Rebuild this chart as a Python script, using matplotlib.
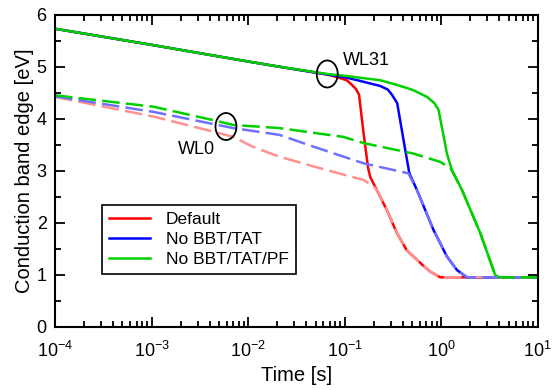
import matplotlib
matplotlib.use('Agg')
import matplotlib.pyplot as plt
from matplotlib.patches import Ellipse
from matplotlib.transforms import ScaledTranslation
from matplotlib.ticker import LogLocator, MultipleLocator, FixedLocator

plt.rcParams['font.family'] = ['Liberation Sans', 'DejaVu Sans']
plt.rcParams['mathtext.fontset'] = 'custom'
plt.rcParams['mathtext.rm'] = 'Liberation Sans'
plt.rcParams['mathtext.default'] = 'regular'

# WL31 (solid)
t_default = [1e-4, 1e-3, 1e-2, 2.1e-2, 6.6e-2, 8.3e-2, 0.105, 0.119, 0.131, 0.141, 0.157, 0.175, 0.184,
             0.215, 0.274, 0.348, 0.44, 0.516, 0.655, 0.769, 0.977, 10]
v_default = [5.73, 5.42, 5.10, 5.00, 4.85, 4.80, 4.74, 4.65, 4.57, 4.46, 3.72, 3.05, 2.88,
             2.63, 2.24, 1.80, 1.47, 1.35, 1.17, 1.06, 0.95, 0.95]
t_nobbt = [1e-4, 1e-3, 1e-2, 2.1e-2, 6.6e-2, 0.105, 0.157, 0.233, 0.28, 0.309, 0.35, 0.424, 0.468,
           0.56, 0.832, 1.146, 1.455, 1.845, 10]
v_nobbt = [5.73, 5.42, 5.10, 5.00, 4.85, 4.79, 4.71, 4.63, 4.56, 4.46, 4.30, 3.40, 2.95,
           2.63, 1.86, 1.35, 1.09, 0.95, 0.95]
t_nopf = [1e-4, 1e-3, 1e-2, 2.1e-2, 6.6e-2, 0.105, 0.233, 0.348, 0.513, 0.711, 0.85, 0.938, 1.146,
          1.29, 1.64, 2.54, 3.63, 3.98, 10]
v_nopf = [5.73, 5.42, 5.10, 5.00, 4.86, 4.82, 4.74, 4.65, 4.55, 4.42, 4.30, 4.17, 3.33,
          3.01, 2.63, 1.80, 0.99, 0.95, 0.95]

# WL0 (dashed)
t_default_wl0 = [1e-4, 1.05e-3, 4.4e-3, 7.0e-3, 1.12e-2, 2.1e-2, 4.8e-2, 0.158, 0.20, 0.215,
                 0.274, 0.348, 0.44, 0.516, 0.655, 0.769, 0.977, 10]
v_default_wl0 = [4.42, 4.04, 3.75, 3.65, 3.46, 3.27, 3.08, 2.82, 2.69, 2.63,
                 2.24, 1.80, 1.47, 1.35, 1.17, 1.06, 0.95, 0.95]
t_nobbt_wl0 = [1e-4, 1.05e-3, 7.0e-3, 2.1e-2, 4.8e-2, 0.158, 0.457, 0.56, 0.832, 1.146,
               1.455, 1.845, 10]
v_nobbt_wl0 = [4.43, 4.13, 3.82, 3.69, 3.46, 3.14, 2.95, 2.63, 1.86, 1.35,
               1.09, 0.95, 0.95]
t_nopf_wl0 = [1e-4, 1.05e-3, 4.4e-3, 7.0e-3, 2.1e-2, 9.7e-2, 0.158, 0.513, 0.977, 1.24,
              1.29, 1.64, 2.54, 3.63, 3.98, 10]
v_nopf_wl0 = [4.45, 4.23, 3.97, 3.88, 3.82, 3.65, 3.53, 3.33, 3.17, 3.05,
              3.01, 2.63, 1.80, 0.99, 0.95, 0.95]

labels = ['Default', 'No BBT/TAT', 'No BBT/TAT/PF']
colors = ['#ff0000', '#0000ff', '#00d000']
colors_wl0 = ['#ff9090', '#7070ff', '#00d000']

fig = plt.figure(figsize=(5.59, 3.9), dpi=100)
ax = fig.add_axes([0.0984, 0.1623, 0.8636, 0.8])

solid = [(t_default, v_default), (t_nobbt, v_nobbt), (t_nopf, v_nopf)]
dashed = [(t_default_wl0, v_default_wl0), (t_nobbt_wl0, v_nobbt_wl0), (t_nopf_wl0, v_nopf_wl0)]

for (t, v), c, lab in zip(solid, colors, labels):
    ax.plot(t, v, color=c, lw=1.8, label=lab)
for (t, v), c in zip(dashed, colors_wl0):
    ax.plot(t, v, color=c, lw=1.8, dashes=(7, 2.5))

ax.set_xscale('log')
ax.set_xlim(1e-4, 10)
ax.set_ylim(0, 6)

ax.xaxis.set_major_locator(FixedLocator([1e-4, 1e-3, 1e-2, 1e-1, 1e0, 1e1]))
ax.set_xticklabels(['$10^{-4}$', '$10^{-3}$', '$10^{-2}$', '$10^{-1}$', '$10^{0}$', '$10^{1}$'])
ax.xaxis.set_minor_locator(LogLocator(base=10, subs=range(2, 10), numticks=20))
ax.yaxis.set_major_locator(MultipleLocator(1))
ax.yaxis.set_minor_locator(MultipleLocator(0.5))

ax.tick_params(which='both', direction='in', top=True, right=True, width=1.3, labelsize=13)
ax.tick_params(which='major', length=7)
ax.tick_params(axis='x', which='major', pad=10)
ax.tick_params(axis='y', which='major', pad=6)
ax.tick_params(which='minor', length=4, labelbottom=False)
for s in ax.spines.values():
    s.set_linewidth(1.5)

ax.set_xlabel('Time [s]', fontsize=14.5, labelpad=4)
ax.set_ylabel('Conduction band edge [eV]', fontsize=14.5, labelpad=2)

# ellipse markers (size in inches, positioned in data coords)
for xc, yc in [(0.066, 4.86), (0.0059, 3.85)]:
    tr = fig.dpi_scale_trans + ScaledTranslation(xc, yc, ax.transData)
    ax.add_patch(Ellipse((0, 0), 0.21, 0.27, transform=tr, fill=False, ec='black', lw=1.3, zorder=5))

ax.text(0.097, 5.11, 'WL31', fontsize=13, va='center', ha='left')
ax.text(0.00295, 3.40, 'WL0', fontsize=13, va='center', ha='center')

leg = ax.legend(loc='lower left', bbox_to_anchor=(0.097, 0.168), fontsize=12.5, frameon=True,
                fancybox=False, edgecolor='black', framealpha=1, handlelength=2.4,
                handletextpad=0.9, labelspacing=0.3, borderpad=0.4, borderaxespad=0)
leg.get_frame().set_linewidth(1.2)

fig.savefig('out.png', dpi=100)
